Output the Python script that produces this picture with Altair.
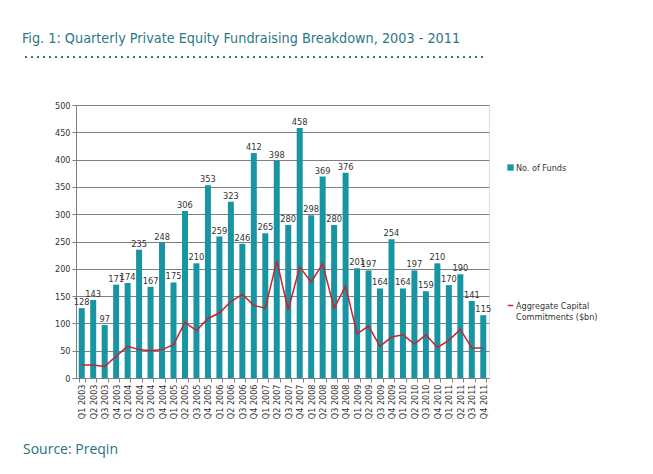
import altair as alt
import pandas as pd

quarters = [f"Q{q} {y}" for y in range(2003, 2012) for q in range(1, 5)]
funds = [128, 143, 97, 171, 174, 235, 167, 248, 175, 306, 210, 353, 259, 323, 246, 412,
         265, 398, 280, 458, 298, 369, 280, 376, 201, 197, 164, 254, 164, 197, 159, 210,
         170, 190, 141, 115]
capital = [24, 24, 21, 40, 58, 52, 50, 52, 61, 102, 87, 109, 119, 140, 153, 133,
           128, 214, 125, 203, 176, 209, 128, 168, 81, 95, 58, 75, 79, 62, 79, 56,
           69, 89, 55, 55]
y_ticks = list(range(0, 501, 50))

title_text = "Fig. 1: Quarterly Private Equity Fundraising Breakdown, 2003 - 2011"
source_text = "Source: Preqin"
bar_name = "No. of Funds"
line_name = "Aggregate Capital Commitments ($bn)"

TEAL = "#1994a3"
RED = "#c8232c"
TITLE_C = "#2b7884"
FONT = "DejaVu Sans Condensed, Liberation Sans Narrow, Lato"

df = pd.DataFrame({"q": quarters, "funds": funds, "capital": capital,
                   "bar": bar_name, "line": line_name})

yaxis = alt.Axis(values=y_ticks, labelFontSize=9, labelColor="#333333", labelFont=FONT,
                 labelOverlap=False, gridColor="#808080", domainColor="#808080",
                 tickColor="#808080", tickSize=4, title=None)
yscale = alt.Scale(domain=[0, 500], nice=False)
xaxis = alt.Axis(labelAngle=-90, labelFontSize=9, labelColor="#333333",
                 labelFont=FONT, domainColor="#808080", tickColor="#808080",
                 tickBand="extent", tickSize=4, labelPadding=2, title=None)
xscale = alt.Scale(paddingInner=0.5, paddingOuter=0.25)

base = alt.Chart(df)

bars = base.mark_bar(size=6).encode(
    x=alt.X("q:N", sort=quarters, scale=xscale, axis=xaxis),
    y=alt.Y("funds:Q", scale=yscale, axis=yaxis),
    color=alt.Color("bar:N", scale=alt.Scale(domain=[bar_name], range=[TEAL]),
                    legend=alt.Legend(title=None, orient="none", legendX=430, legendY=58,
                                      symbolType="square", symbolSize=40,
                                      labelFontSize=9, labelFont=FONT,
                                      labelColor="#333333", labelOffset=1)),
)

labels = base.mark_text(dy=-6, fontSize=9.2, font=FONT, color="#333333").encode(
    x=alt.X("q:N", sort=quarters, scale=xscale, axis=xaxis),
    y=alt.Y("funds:Q", scale=yscale, axis=yaxis),
    text="funds:Q",
)

line = base.mark_line(strokeWidth=1.5).encode(
    x=alt.X("q:N", sort=quarters, scale=xscale, axis=xaxis),
    y=alt.Y("capital:Q", scale=yscale, axis=yaxis),
    stroke=alt.Stroke("line:N", scale=alt.Scale(domain=[line_name], range=[RED]),
                      legend=alt.Legend(title=None, orient="none", legendX=430, legendY=196,
                                        symbolType="stroke", symbolSize=30,
                                        symbolStrokeWidth=1.5,
                                        labelFontSize=9, labelFont=FONT,
                                        labelColor="#333333", labelOffset=1,
                                        labelLimit=200,
                                        labelExpr="['Aggregate Capital', ' Commitments ($bn)']")),
)

one = pd.DataFrame({"t": [title_text], "s": [source_text]})
title = alt.Chart(one).mark_text(align="left", baseline="alphabetic", fontSize=14.3,
                                 font=FONT, color=TITLE_C).encode(
    x=alt.value(-54), y=alt.value(-62), text="t:N")
dots = alt.Chart(one).mark_rule(color=TITLE_C, strokeWidth=2.2, strokeDash=[2, 4]).encode(
    x=alt.value(-51), x2=alt.value(410), y=alt.value(-48))
source = alt.Chart(one).mark_text(align="left", baseline="alphabetic", fontSize=14,
                                  font="Open Sans", color="#2a6f80").encode(
    x=alt.value(-53), y=alt.value(349), text="s:N")

chart = alt.layer(bars, line, labels, title, dots, source).resolve_legend(
    color="independent", stroke="independent"
).properties(
    width=413, height=273,
    autosize=alt.AutoSizeParams(type="none"),
    padding={"left": 68, "top": 97, "right": 156, "bottom": 88},
).configure_view(stroke=None).configure(background="white")

chart.save("out.html", embed_options={"renderer": "svg", "actions": False})
